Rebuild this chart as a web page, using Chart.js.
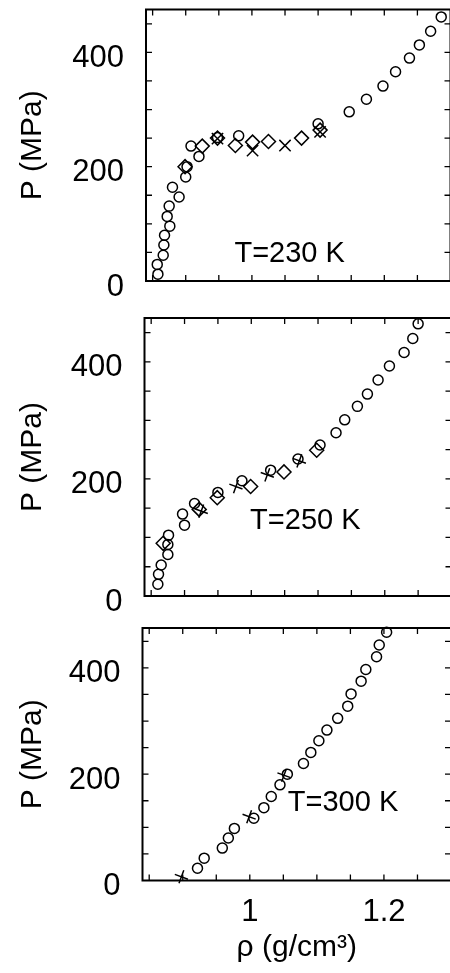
<!DOCTYPE html>
<html>
<head>
<meta charset="utf-8">
<script src="https://cdn.jsdelivr.net/npm/chart.js@4.4.0/dist/chart.umd.min.js"></script>
<style>
  html, body { margin: 0; padding: 0; background: #fff; overflow: hidden; width: 450px; height: 973px; }
  canvas { position: absolute; left: 0; }
</style>
</head>
<body>
<canvas id="c230" style="top:0px"></canvas>
<canvas id="c250" style="top:300px"></canvas>
<canvas id="c300" style="top:610px"></canvas>
<script>
// density rho (g/cm3) vs pressure P (MPa)

// T = 230 K
const rho230Circ = [0.858, 0.857, 0.866, 0.867, 0.868, 0.876, 0.872, 0.875, 0.880, 0.890, 0.900, 0.902, 0.908, 0.920, 0.948, 0.980, 1.100, 1.147, 1.173, 1.198, 1.217, 1.238, 1.253, 1.270, 1.286];
const p230Circ   = [12, 29, 45, 63, 80, 96, 113, 131, 164, 147, 182, 200, 236, 218, 251, 254, 275, 296, 318, 341, 366, 390, 413, 437, 462];
const rho230Diam = [0.899, 0.925, 0.948, 0.975, 1.001, 1.025, 1.075, 1.103];
const p230Diam   = [200, 236, 250, 237, 243, 244, 250, 264];
const rho230Cross = [0.948, 1.001, 1.050, 1.103];
const p230Cross   = [249, 228, 237, 261];

// T = 250 K
const rho250Circ = [0.860, 0.861, 0.865, 0.875, 0.875, 0.876, 0.900, 0.897, 0.915, 0.950, 0.986, 1.029, 1.070, 1.103, 1.127, 1.140, 1.159, 1.174, 1.190, 1.207, 1.229, 1.242, 1.250];
const p250Circ   = [20, 37, 53, 71, 88, 104, 121, 140, 158, 177, 197, 215, 234, 258, 279, 301, 324, 345, 369, 393, 416, 440, 465];
const rho250Diam = [0.868, 0.922, 0.949, 0.999, 1.049, 1.098];
const p250Diam   = [90, 148, 168, 187, 212, 249];
const rho250Cross = [0.925, 0.977, 1.024, 1.072];
const p250Cross   = [145, 187, 207, 231];

// T = 300 K
const rho300Circ = [0.922, 0.932, 0.959, 0.968, 0.977, 1.006, 1.021, 1.032, 1.045, 1.056, 1.080, 1.091, 1.103, 1.115, 1.131, 1.146, 1.151, 1.166, 1.173, 1.189, 1.193, 1.204];
const p300Circ   = [23, 42, 61, 80, 98, 117, 137, 158, 180, 200, 220, 241, 263, 283, 305, 328, 351, 375, 397, 421, 443, 467];
const rho300Diam = [];
const p300Diam   = [];
const rho300Cross = [0.898, 0.999, 1.051];
const p300Cross   = [7, 120, 198];

// axes
const xMin = 0.84, xMax = 1.30;
const yMin = 0, yMax = 475;
const yTicks = [0, 200, 400];
const xTicks = [1, 1.2];
const xTickLabels = ['1', '1.2'];
const xMinor = [0.85, 0.9, 0.95, 1.0, 1.05, 1.1, 1.15, 1.2, 1.25];
const yMinor = [50, 100, 150, 200, 250, 300, 350, 400, 450];

const FONT = '"Liberation Sans", Arial, Helvetica, sans-serif';

const pts = (xs, ys) => xs.map((x, i) => ({ x: x, y: ys[i] }));

// box with inward ticks on all four sides + the temperature label
const frame = {
  id: 'frame',
  afterDatasetsDraw(chart, args, opts) {
    const { ctx, chartArea: a } = chart;
    const x = chart.scales.x, y = chart.scales.y;
    ctx.save();
    ctx.strokeStyle = '#000';
    ctx.lineWidth = 1.3;
    ctx.beginPath();
    xMinor.forEach(v => {
      const px = x.getPixelForValue(v);
      ctx.moveTo(px, a.top); ctx.lineTo(px, a.top + 6);
      ctx.moveTo(px, a.bottom); ctx.lineTo(px, a.bottom - 6);
    });
    yMinor.forEach(v => {
      const py = y.getPixelForValue(v);
      ctx.moveTo(a.left, py); ctx.lineTo(a.left + 6, py);
      ctx.moveTo(a.right, py); ctx.lineTo(a.right - 6, py);
    });
    ctx.stroke();
    ctx.lineWidth = 2;
    ctx.strokeRect(a.left, a.top, a.right - a.left, a.bottom - a.top);
    ctx.fillStyle = '#000';
    ctx.font = '29px ' + FONT;
    ctx.textAlign = 'center';
    ctx.textBaseline = 'middle';
    ctx.fillText(opts.text, x.getPixelForValue(opts.at[0]), y.getPixelForValue(opts.at[1]));
    ctx.restore();
  }
};

function panel(id, p) {
  const W = 460;
  const cv = document.getElementById(id);
  cv.width = W; cv.height = p.height;
  cv.style.width = W + 'px'; cv.style.height = p.height + 'px';

  const base = { borderColor: '#000', pointBorderColor: '#000', pointBackgroundColor: 'rgba(0,0,0,0)', clip: false };
  const datasets = [
    Object.assign({ data: pts(p.circRho, p.circP), pointStyle: 'circle', pointRadius: 5, pointBorderWidth: 1.5 }, base),
    Object.assign({ data: pts(p.diamRho, p.diamP), pointStyle: 'rectRot', pointRadius: 7, pointBorderWidth: 1.5 }, base),
    Object.assign({ data: pts(p.crossRho, p.crossP), pointStyle: p.crossStyle, pointRotation: p.crossRot, pointRadius: p.crossR, pointBorderWidth: 1.5 }, base)
  ];

  new Chart(cv, {
    type: 'scatter',
    data: { datasets: datasets },
    plugins: [frame],
    options: {
      responsive: false,
      animation: false,
      events: [],
      layout: { padding: { left: 0, top: p.top, right: W - p.right, bottom: 0 } },
      plugins: {
        legend: { display: false },
        tooltip: { enabled: false },
        frame: { text: p.label, at: p.labelAt }
      },
      scales: {
        x: {
          type: 'linear',
          min: xMin, max: xMax,
          display: p.bottomAxis,
          grid: { display: false, drawTicks: false },
          border: { display: false },
          afterBuildTicks: s => { s.ticks = xTicks.map(v => ({ value: v })); },
          afterFit: s => {
            s.height = p.height - p.bottom;
            s.paddingLeft = 0; s.paddingRight = 0; s.paddingTop = 0; s.paddingBottom = 0;
          },
          ticks: {
            color: '#000', font: { family: FONT, size: 31 }, padding: 13, maxRotation: 0, autoSkip: false,
            callback: (v, i) => xTickLabels[i]
          },
          title: { display: true, text: 'ρ (g/cm³)', color: '#000', font: { family: FONT, size: 30 }, padding: { top: 0, bottom: 7 } }
        },
        y: {
          type: 'linear',
          min: yMin, max: yMax,
          grid: { display: false, drawTicks: false },
          border: { display: false },
          afterBuildTicks: s => { s.ticks = yTicks.map(v => ({ value: v })); },
          afterFit: s => {
            s.width = p.left;
            s.paddingLeft = 0; s.paddingRight = 0; s.paddingTop = 0; s.paddingBottom = 0;
          },
          ticks: { color: '#000', font: { family: FONT, size: 31 }, padding: 22, labelOffset: 6 },
          title: { display: true, text: 'P (MPa)', color: '#000', font: { family: FONT, size: 30 }, padding: { top: 15, bottom: 0 } }
        }
      }
    }
  });
}

panel('c230', {
  height: 306, left: 146, top: 8.5, bottom: 281, right: 453, bottomAxis: false,
  circRho: rho230Circ, circP: p230Circ, diamRho: rho230Diam, diamP: p230Diam,
  crossRho: rho230Cross, crossP: p230Cross, crossStyle: 'crossRot', crossRot: 0, crossR: 8,
  label: 'T=230 K', labelAt: [1.057, 47]
});
panel('c250', {
  height: 320, left: 144.5, top: 18, bottom: 296, right: 453.5, bottomAxis: false,
  circRho: rho250Circ, circP: p250Circ, diamRho: rho250Diam, diamP: p250Diam,
  crossRho: rho250Cross, crossP: p250Cross, crossStyle: 'cross', crossRot: 20, crossR: 7,
  label: 'T=250 K', labelAt: [1.081, 128]
});
panel('c300', {
  height: 363, left: 142.5, top: 18, bottom: 270.5, right: 451, bottomAxis: true,
  circRho: rho300Circ, circP: p300Circ, diamRho: rho300Diam, diamP: p300Diam,
  crossRho: rho300Cross, crossP: p300Cross, crossStyle: 'cross', crossRot: 20, crossR: 7,
  label: 'T=300 K', labelAt: [1.139, 146]
});
</script>
</body>
</html>
